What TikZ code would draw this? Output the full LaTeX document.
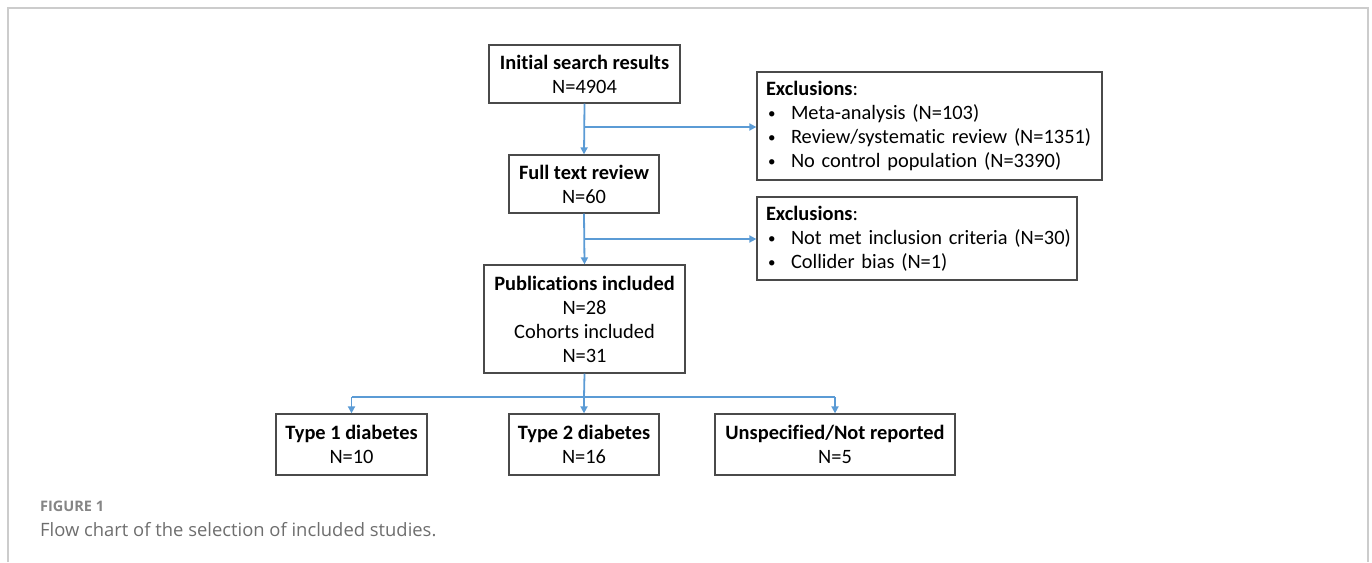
\documentclass[tikz,border=0pt]{standalone}
\usepackage{fontspec}
\setmainfont{Carlito}[Ligatures=NoCommon]
\newfontfamily\capfont{Open Sans}
\usetikzlibrary{arrows.meta}
\definecolor{arrblue}{HTML}{5B9BD5}
\definecolor{boxgray}{HTML}{4A4A4A}
\definecolor{framegray}{HTML}{CCCCCC}
\definecolor{capgray}{HTML}{6E6E6E}
\definecolor{figgray}{HTML}{858585}
\newcommand{\blt}[1]{\mbox{\makebox[25pt][l]{\hspace{2pt}\raisebox{1pt}{\fontsize{15}{15}\selectfont\textbullet}}#1}}
\begin{document}
\begin{tikzpicture}[x=1pt,y=-1pt,
  flowbox/.style={draw=boxgray, line width=1.3pt, align=center, inner sep=0pt,
    font=\fontsize{20.4}{24}\selectfont},
  exclbox/.style={draw=boxgray, line width=1.3pt, align=left, inner xsep=9pt, inner ysep=0pt,
    font=\fontsize{20.4}{24}\selectfont},
  conn/.style={draw=arrblue, line width=1.8pt},
  arr/.style={conn, -{Triangle[length=7pt,width=7pt]}}]
\useasboundingbox (0,0) rectangle (1372,562);
% outer frame
\draw[framegray, line width=1.5pt] (8,562) -- (8,8) -- (1368,8) -- (1368,562);
% main boxes
\node[flowbox, minimum width=191pt, minimum height=58pt] (b1) at (584.5,74) {\textbf{Initial search results}\\N=4904};
\node[flowbox, minimum width=150pt, minimum height=58pt] (b2) at (584,184) {\textbf{Full text review}\\N=60};
\node[flowbox, minimum width=201pt, minimum height=108pt] (b3) at (584.5,319) {\textbf{Publications included}\\N=28\\Cohorts included\\N=31};
\node[exclbox, text width=327pt, minimum height=108pt] (e1) at (929.5,126) {\textbf{Exclusions}:\\
\blt{Meta-analysis (N=103)}\\
\blt{Review/systematic review (N=1351)}\\
\blt{No control population (N=3390)}};
\node[exclbox, text width=302pt, minimum height=83pt] (e2) at (917,238.5) {\textbf{Exclusions}:\\
\blt{Not met inclusion criteria (N=30)}\\
\blt{Collider bias (N=1)}};
\node[flowbox, minimum width=151pt, minimum height=61pt] (t1) at (351.5,444.5) {\textbf{Type 1 diabetes}\\N=10};
\node[flowbox, minimum width=150pt, minimum height=61pt] (t2) at (584,444.5) {\textbf{Type 2 diabetes}\\N=16};
\node[flowbox, minimum width=240pt, minimum height=61pt] (t3) at (835,444.5) {\textbf{Unspecified/Not reported}\\N=5};
% connectors
\coordinate (j1) at (584,127);
\coordinate (j2) at (584,239);
\coordinate (j3) at (584,397);
\draw[arr] (b1.south) -- (b2.north);
\draw[arr] (j1) -- (e1.west |- j1);
\draw[arr] (b2.south) -- (b3.north);
\draw[arr] (j2) -- (e2.west |- j2);
\draw[conn] (b3.south) -- (j3);
\draw[conn] (t1.north |- j3) -- (t3.north |- j3);
\draw[arr] (t1.north |- j3) -- (t1.north);
\draw[arr] (j3) -- (t2.north);
\draw[arr] (t3.north |- j3) -- (t3.north);
% caption
\node[anchor=base west, inner sep=0pt, text=figgray, font=\capfont\bfseries\fontsize{14.5}{16}\selectfont] (fig) at (40,511) {FIGURE 1};
\node[anchor=base west, inner sep=0pt, text=capgray, font=\capfont\fontsize{18.4}{20}\selectfont] (cap) at (40,536) {Flow chart of the selection of included studies.};
\end{tikzpicture}
\end{document}
